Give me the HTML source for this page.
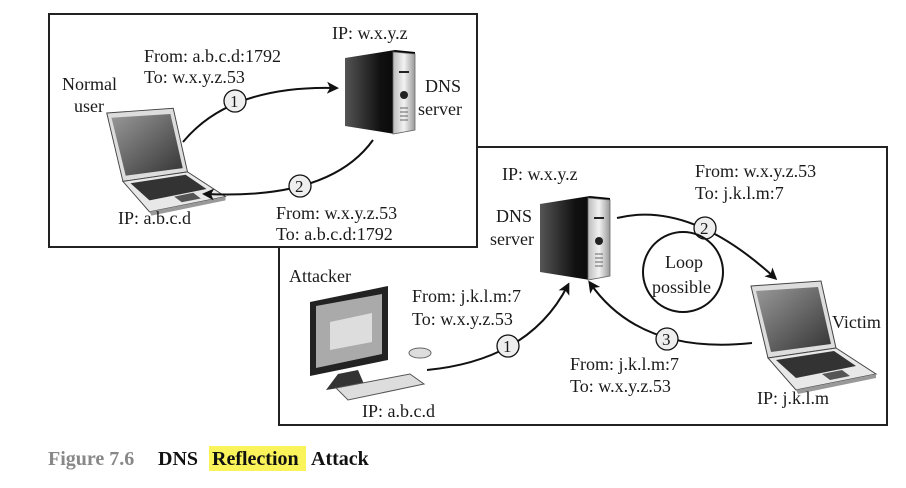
<!DOCTYPE html>
<html><head><meta charset="utf-8"><style>
html,body{margin:0;padding:0;background:#fff;}
svg{display:block;}
text{font-family:"Liberation Serif",serif;font-size:18px;fill:#1a1a1a;}
.n{font-size:17px;}
.cap{font-family:"Liberation Serif",serif;font-weight:bold;font-size:20px;}
</style></head><body>
<svg width="906" height="488" viewBox="0 0 906 488" xmlns="http://www.w3.org/2000/svg">
<defs>
<marker id="ar" markerWidth="12" markerHeight="12" refX="9" refY="6" orient="auto" markerUnits="userSpaceOnUse">
<path d="M0,0 L12,6 L0,12 L3,6 Z" fill="#111"/></marker>
<linearGradient id="tw" x1="0" x2="1"><stop offset="0" stop-color="#555"/><stop offset="0.5" stop-color="#111"/><stop offset="1" stop-color="#000"/></linearGradient>
<linearGradient id="fc" x1="0" x2="1"><stop offset="0" stop-color="#bbb"/><stop offset="0.5" stop-color="#f2f2f2"/><stop offset="1" stop-color="#999"/></linearGradient>
<linearGradient id="scr" x1="0" y1="0" x2="1" y2="1"><stop offset="0" stop-color="#999"/><stop offset="1" stop-color="#333"/></linearGradient>
<g id="server">
<path d="M0,8 L50,0 L70,2 L70,80 L50,84 L0,76 Z" fill="url(#tw)"/>
<path d="M48,2 L70,4 L70,80 L48,84 Z" fill="url(#fc)" stroke="#666" stroke-width="0.8"/>
<line x1="54" y1="22" x2="64" y2="22" stroke="#222" stroke-width="2"/>
<circle cx="59" cy="45" r="4" fill="#222"/>
<g stroke="#666" stroke-width="1"><line x1="55" y1="58" x2="63" y2="58"/><line x1="55" y1="62" x2="63" y2="62"/><line x1="55" y1="66" x2="63" y2="66"/><line x1="55" y1="70" x2="63" y2="70"/></g>
</g>
<g id="laptop">
<path d="M5,0 L75,-5 L90,62 L22,72 Z" fill="#ddd" stroke="#444" stroke-width="1"/>
<path d="M10,5 L72,1 L85,58 L25,66 Z" fill="url(#scr)"/>
<path d="M22,72 L90,62 L130,88 L50,104 Z" fill="#e8e8e8" stroke="#444" stroke-width="1"/>
<path d="M30,74 L88,65 L110,80 L50,92 Z" fill="#333"/>
<path d="M76,88 L96,84 L104,90 L84,94 Z" fill="#555"/>
<path d="M50,104 L130,88 L130,92 L52,108 Z" fill="#999"/>
</g>
</defs>

<rect x="279" y="147" width="608" height="278" fill="#fff" stroke="#222" stroke-width="2"/>
<rect x="49" y="14" width="428" height="233" fill="#fff" stroke="#222" stroke-width="2"/>

<text x="332" y="39">IP: w.x.y.z</text>
<text x="144" y="62">From: a.b.c.d:1792</text>
<text x="144" y="83">To: w.x.y.z.53</text>
<text x="62" y="90">Normal</text>
<text x="74" y="112">user</text>
<text x="425" y="92">DNS</text>
<text x="418" y="115">server</text>
<use href="#server" x="345" y="50"/>
<g transform="translate(102,113) scale(0.95)"><use href="#laptop"/></g>
<path d="M183,142 Q230,85 336,88" fill="none" stroke="#111" stroke-width="2" marker-end="url(#ar)"/>
<circle cx="235" cy="101" r="11" fill="#eee" stroke="#111" stroke-width="1.3"/><text class="n" x="230" y="107">1</text>
<path d="M373,140 Q330,200 205,194" fill="none" stroke="#111" stroke-width="2" marker-end="url(#ar)"/>
<circle cx="300" cy="186" r="11" fill="#eee" stroke="#111" stroke-width="1.3"/><text class="n" x="295" y="192">2</text>
<text x="276" y="219">From: w.x.y.z.53</text>
<text x="276" y="240">To: a.b.c.d:1792</text>
<text x="118" y="224">IP: a.b.c.d</text>

<text x="502" y="180">IP: w.x.y.z</text>
<text x="496" y="222">DNS</text>
<text x="490" y="245">server</text>
<use href="#server" x="540" y="196"/>
<text x="695" y="177">From: w.x.y.z.53</text>
<text x="695" y="199">To: j.k.l.m:7</text>
<path d="M617,218 Q690,200 775,278" fill="none" stroke="#111" stroke-width="2" marker-end="url(#ar)"/>
<circle cx="705" cy="228" r="11" fill="#eee" stroke="#111" stroke-width="1.3"/><text class="n" x="700" y="234">2</text>
<circle cx="683" cy="272" r="40" fill="none" stroke="#111" stroke-width="2"/>
<text x="665" y="268">Loop</text>
<text x="652" y="293">possible</text>
<text x="289" y="282">Attacker</text>
<path d="M310,302 L388,286 L388,360 L310,376 Z" fill="#222"/>
<path d="M316,306 L382,294 L382,354 L316,368 Z" fill="#aaa"/>
<path d="M330,322 L372,313 L372,342 L330,350 Z" fill="#ddd"/>
<path d="M338,374 L358,370 L364,384 L326,390 Z" fill="#333"/>
<path d="M336,388 L410,374 L424,384 L348,400 Z" fill="#ddd" stroke="#555"/>
<ellipse cx="420" cy="353" rx="11" ry="5" fill="#ddd" stroke="#666"/>
<text x="412" y="302">From: j.k.l.m:7</text>
<text x="412" y="325">To: w.x.y.z.53</text>
<path d="M427,370 Q530,360 568,285" fill="none" stroke="#111" stroke-width="2" marker-end="url(#ar)"/>
<circle cx="508" cy="346" r="11" fill="#eee" stroke="#111" stroke-width="1.3"/><text class="n" x="503" y="352">1</text>
<use href="#laptop" x="746" y="286"/>
<text x="832" y="328">Victim</text>
<path d="M752,343 Q640,355 590,283" fill="none" stroke="#111" stroke-width="2" marker-end="url(#ar)"/>
<circle cx="667" cy="339" r="11" fill="#eee" stroke="#111" stroke-width="1.3"/><text class="n" x="662" y="345">3</text>
<text x="570" y="370">From: j.k.l.m:7</text>
<text x="570" y="392">To: w.x.y.z.53</text>
<text x="362" y="417">IP: a.b.c.d</text>
<text x="757" y="404">IP: j.k.l.m</text>

<rect x="209" y="446" width="97" height="25" fill="#fbf35a"/>
<text class="cap" x="48" y="465" style="fill:#888">Figure 7.6</text>
<text class="cap" x="158" y="465" style="fill:#111">DNS</text>
<text class="cap" x="212" y="465" style="fill:#111">Reflection</text>
<text class="cap" x="311" y="465" style="fill:#111">Attack</text>
</svg>
</body></html>
